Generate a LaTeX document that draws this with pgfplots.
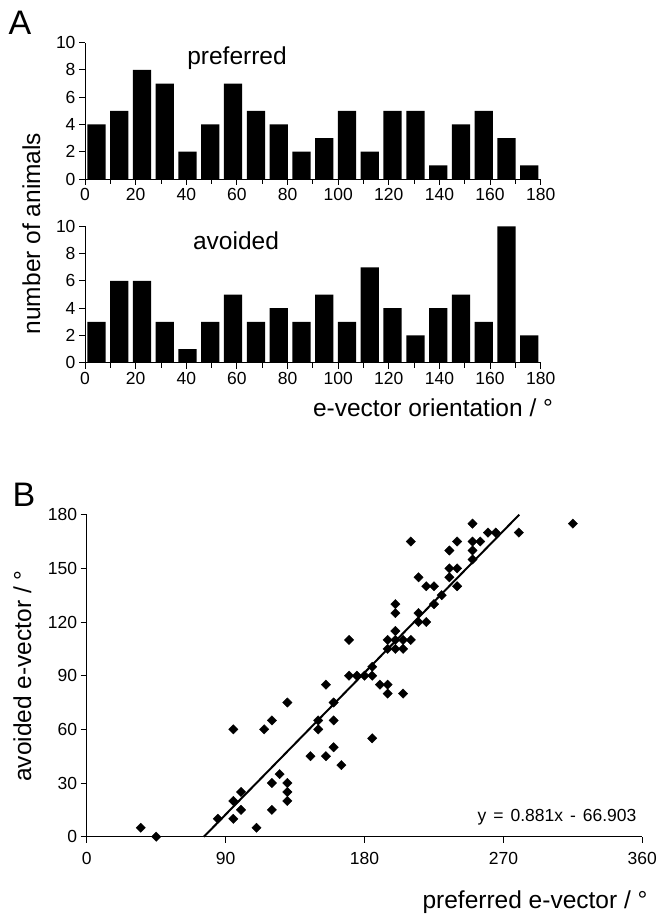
\documentclass[border=0pt]{standalone}
\usepackage{fontspec}
\setmainfont{Liberation Sans}
\usepackage{pgfplots}
\pgfplotsset{compat=1.18}
\pgfplotsset{
  common/.style={
    scale only axis, axis lines=left, axis line style={-, line width=0.9pt, black},
    tick align=outside, tick style={black, line width=0.9pt},
    major tick length=6pt, minor tick length=5pt,
    /pgf/number format/assume math mode=true,
    ticklabel style={font=\fontsize{17.5}{18}\selectfont},
    anchor=south west, clip=false,
  },
  histo/.style={common,
    width=455.7pt, height=136.3pt, xmin=0, xmax=180, ymin=0, ymax=10,
    xtick={0,20,...,180}, minor xtick={10,30,...,170}, ytick={0,2,...,10},
    ybar, bar width=7.2,
  },
}
\begin{document}
\begin{tikzpicture}[x=1pt,y=1pt]
\useasboundingbox (0,0) rectangle (660,915);

% preferred histogram
\begin{axis}[histo, at={(85pt,736pt)}]
\addplot[fill=black, draw=none] coordinates {
(4.5,4) (13.5,5) (22.5,8) (31.5,7) (40.5,2) (49.5,4) (58.5,7) (67.5,5) (76.5,4) (85.5,2)
(94.5,3) (103.5,5) (112.5,2) (121.5,5) (130.5,5) (139.5,1) (148.5,4) (157.5,5) (166.5,3) (175.5,1)};
\end{axis}

% avoided histogram
\begin{axis}[histo, at={(85pt,552.3pt)}]
\addplot[fill=black, draw=none] coordinates {
(4.5,3) (13.5,6) (22.5,6) (31.5,3) (40.5,1) (49.5,3) (58.5,5) (67.5,3) (76.5,4) (85.5,3)
(94.5,5) (103.5,3) (112.5,7) (121.5,4) (130.5,2) (139.5,4) (148.5,5) (157.5,3) (166.5,10) (175.5,2)};
\end{axis}

% scatter
\begin{axis}[common, at={(86.7pt,78.3pt)}, width=555.6pt, height=322pt,
  xmin=0, xmax=360, ymin=0, ymax=180,
  xtick={0,90,...,360}, ytick={0,30,...,180},
  xticklabel style={yshift=-6pt}]
\addplot[only marks, mark=square*, mark size=3.3pt, mark options={rotate=45, fill=black, draw=black}] coordinates {
(35,5) (45,0) (85,10) (95,60) (95,20) (95,10) (100,25) (100,15) (110,5) (115,60)
(120,65) (120,30) (120,15) (125,35) (130,75) (130,30) (130,25) (130,20) (145,45) (150,65)
(150,60) (155,85) (155,45) (160,75) (160,65) (160,50) (165,40) (170,110) (170,90) (175,90)
(180,90) (185,90) (185,95) (185,55) (190,85) (195,85) (195,80) (205,80) (195,105) (195,110)
(200,105) (200,110) (200,115) (200,125) (200,130) (205,105) (205,110) (210,165) (210,110) (215,145)
(215,125) (215,120) (220,140) (220,120) (225,140) (225,130) (230,135) (235,160) (235,150) (235,145)
(240,165) (240,150) (240,140) (250,175) (250,165) (250,160) (250,155) (255,165) (260,170) (265,170)
(280,170) (315,175)};
\addplot[black, line width=2pt, no marks] coordinates {(75.94,0) (280.25,180)};
\end{axis}

% texts
\node[font=\fontsize{34}{34}\selectfont] at (20,892) {A};
\node[font=\fontsize{34}{34}\selectfont] at (24,420) {B};
\node[font=\fontsize{24.5}{25}\selectfont] at (237,856.5) {preferred};
\node[font=\fontsize{24.5}{25}\selectfont, anchor=base] at (236,665) {avoided};
\node[font=\fontsize{24.5}{25}\selectfont, anchor=base, rotate=90] at (40,681.5) {number of animals};
\node[font=\fontsize{24.5}{25}\selectfont, anchor=base] at (433,498) {e-vector orientation / °};
\node[font=\fontsize{24.5}{25}\selectfont, anchor=base, rotate=90] at (31,239) {avoided e-vector / °};
\node[font=\fontsize{24.5}{25}\selectfont, anchor=base] at (535,6) {preferred e-vector / °};
\node[font=\fontsize{17.5}{18}\selectfont, anchor=base east] at (640,93) {y\hspace{0.4em}=\hspace{0.4em}0.881x\hspace{0.4em}-\hspace{0.4em}66.903};
\end{tikzpicture}
\end{document}
